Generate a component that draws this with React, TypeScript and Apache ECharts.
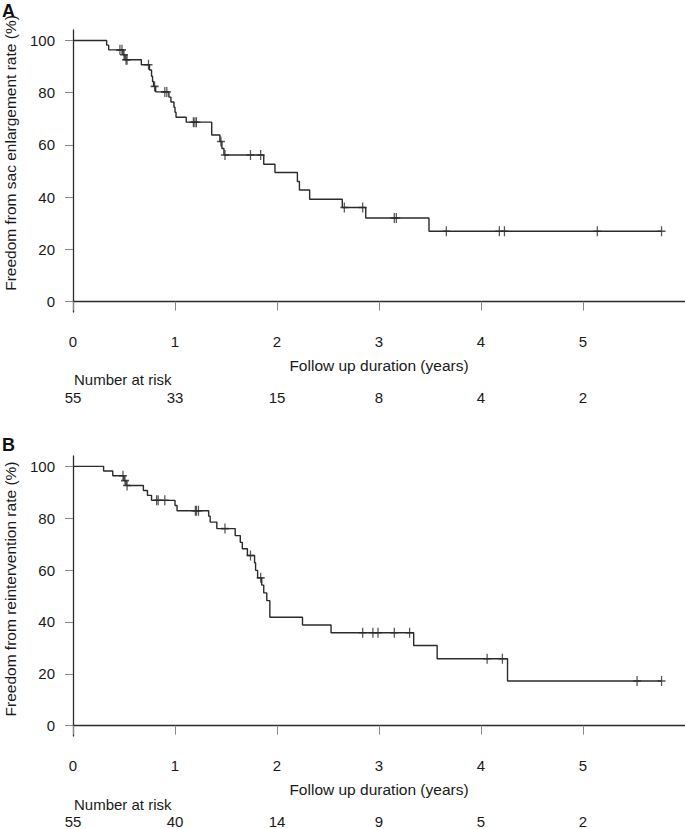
import React, { useEffect, useRef } from "react";
import * as echarts from "echarts";

const xTicks = [0, 1, 2, 3, 4, 5];
const yTicks = [0, 20, 40, 60, 80, 100];
const riskA = [55, 33, 15, 8, 4, 2];
const riskB = [55, 40, 14, 9, 5, 2];

const aEventTimes = [0.33, 0.35, 0.49, 0.51, 0.67, 0.75, 0.77, 0.78, 0.79, 0.81, 0.94, 0.96, 0.99, 1.0, 1.01, 1.11, 1.36, 1.44, 1.46, 1.48, 1.87, 1.98, 2.2, 2.22, 2.32, 2.64, 2.87, 3.49];
const aSurvival = [98.2, 96.4, 94.5, 92.6, 90.7, 88.7, 86.3, 84.3, 82.4, 80.3, 78.3, 76.4, 74.4, 72.5, 70.6, 68.7, 63.8, 61.3, 58.6, 56.1, 52.6, 49.4, 46.0, 42.7, 39.2, 36.0, 32.0, 26.9];
const aCensorTimes = [0.46, 0.48, 0.5, 0.52, 0.53, 0.74, 0.8, 0.9, 0.92, 1.18, 1.195, 1.21, 1.45, 1.49, 1.74, 1.84, 2.66, 2.84, 3.15, 3.17, 3.66, 4.18, 4.23, 5.14, 5.77];

const bEventTimes = [0.3, 0.39, 0.5, 0.52, 0.69, 0.73, 0.77, 1.0, 1.02, 1.33, 1.345, 1.41, 1.59, 1.64, 1.66, 1.71, 1.78, 1.79, 1.81, 1.85, 1.87, 1.9, 1.93, 2.25, 2.53, 3.34, 3.57, 4.26];
const bSurvival = [98.2, 96.4, 94.5, 92.6, 90.7, 88.8, 86.9, 84.9, 82.9, 80.8, 78.5, 76.0, 73.3, 70.7, 68.2, 65.6, 62.8, 59.9, 57.0, 54.2, 51.2, 48.2, 41.8, 38.8, 35.8, 30.9, 25.8, 17.2];
const bCensorTimes = [0.49, 0.51, 0.53, 0.82, 0.835, 0.9, 1.2, 1.21, 1.23, 1.49, 1.74, 1.84, 2.84, 2.94, 2.99, 3.15, 3.3, 4.06, 4.21, 5.53, 5.77];

const FONT = "'Liberation Sans', Arial, sans-serif";
const LINE = "#2b2b2b";

function survAt(times: number[], surv: number[], t: number) {
  let s = 100;
  for (let i = 0; i < times.length; i++) if (times[i] <= t) s = surv[i];
  return s;
}
function curve(times: number[], surv: number[], censors: number[]) {
  const pts: number[][] = [[0, 100]];
  times.forEach((t, i) => pts.push([t, surv[i]]));
  const end = Math.max(...censors, ...times);
  pts.push([end, surv[surv.length - 1]]);
  return pts;
}
function censorPts(times: number[], surv: number[], censors: number[]) {
  return censors.map((c) => [c, survAt(times, surv, c)]);
}

function mainX(gridIndex: number) {
  return {
    type: "value",
    gridIndex,
    min: 0,
    max: 6,
    position: "bottom",
    splitLine: { show: false },
    axisLine: { show: true, lineStyle: { color: LINE, width: 1.3 } },
    axisTick: { show: true, length: 9, customValues: xTicks, lineStyle: { color: "#888", width: 1 } },
    axisLabel: { margin: 22, fontSize: 15, color: "#1a1a1a", fontFamily: FONT, customValues: xTicks },
    name: "Follow up duration (years)",
    nameLocation: "middle",
    nameGap: 45,
    nameTextStyle: { fontSize: 15.5, color: "#1a1a1a", fontFamily: FONT },
  };
}
function riskX(gridIndex: number, risk: number[]) {
  return {
    type: "value",
    gridIndex,
    min: 0,
    max: 6,
    position: "bottom",
    splitLine: { show: false },
    axisLine: { show: false },
    axisTick: { show: false },
    axisLabel: {
      margin: 78,
      fontSize: 15,
      color: "#1a1a1a",
      fontFamily: FONT,
      customValues: xTicks,
      formatter: (v: number) => {
        const i = xTicks.indexOf(v);
        return i >= 0 ? String(risk[i]) : "";
      },
    },
  };
}
function yAx(gridIndex: number) {
  return {
    type: "value",
    gridIndex,
    min: -4,
    max: 104,
    splitLine: { show: false },
    axisLine: { show: true, lineStyle: { color: LINE, width: 1.3 } },
    axisTick: { show: true, length: 8, customValues: yTicks, lineStyle: { color: "#888", width: 1 } },
    axisLabel: { margin: 18, fontSize: 15, color: "#1a1a1a", fontFamily: FONT, customValues: yTicks },
  };
}

export default function App() {
  const ref = useRef<HTMLDivElement>(null);
  useEffect(() => {
    if (!ref.current) return;
    const chart = echarts.init(ref.current, undefined, { renderer: "svg" });
    const plusSymbol = "path://M0,-1L0,1M-1,0L1,0";
    const lineSeries = (xi: number, yi: number, data: number[][]) => ({
      type: "line",
      xAxisIndex: xi,
      yAxisIndex: yi,
      step: "end",
      showSymbol: false,
      symbol: "none",
      silent: true,
      lineStyle: { color: LINE, width: 1.4 },
      data,
    });
    const censorSeries = (xi: number, yi: number, data: number[][]) => ({
      type: "scatter",
      xAxisIndex: xi,
      yAxisIndex: yi,
      symbol: plusSymbol,
      symbolSize: [8, 10],
      silent: true,
      itemStyle: { color: "none", borderColor: LINE, borderWidth: 1.4 },
      data,
    });
    chart.setOption({
      animation: false,
      backgroundColor: "#fff",
      grid: [
        { left: 73, right: 0, top: 30, height: 282 },
        { left: 73, right: 0, top: 456, height: 282 },
      ],
      xAxis: [mainX(0), riskX(0, riskA), mainX(1), riskX(1, riskB)],
      yAxis: [yAx(0), yAx(1)],
      series: [
        lineSeries(0, 0, curve(aEventTimes, aSurvival, aCensorTimes)),
        censorSeries(0, 0, censorPts(aEventTimes, aSurvival, aCensorTimes)),
        lineSeries(2, 1, curve(bEventTimes, bSurvival, bCensorTimes)),
        censorSeries(2, 1, censorPts(bEventTimes, bSurvival, bCensorTimes)),
      ],
      graphic: [
        { type: "text", x: 2, y: 2, style: { text: "A", fontSize: 18, fontWeight: "bold", fontFamily: FONT, fill: "#111" } },
        { type: "text", x: 2, y: 436, style: { text: "B", fontSize: 18, fontWeight: "bold", fontFamily: FONT, fill: "#111" } },
        {
          type: "text", x: 10, y: 153, rotation: Math.PI / 2,
          style: { text: "Freedom from sac enlargement rate (%)", fontSize: 15.5, fontFamily: FONT, fill: "#1a1a1a", textAlign: "center", textVerticalAlign: "middle" },
        },
        {
          type: "text", x: 10, y: 589, rotation: Math.PI / 2,
          style: { text: "Freedom from reintervention rate (%)", fontSize: 15.5, fontFamily: FONT, fill: "#1a1a1a", textAlign: "center", textVerticalAlign: "middle" },
        },
        { type: "text", x: 74, y: 379, style: { text: "Number at risk", fontSize: 15, fontFamily: FONT, fill: "#1a1a1a", textVerticalAlign: "middle" } },
        { type: "text", x: 74, y: 804, style: { text: "Number at risk", fontSize: 15, fontFamily: FONT, fill: "#1a1a1a", textVerticalAlign: "middle" } },
      ],
    });
    return () => chart.dispose();
  }, []);
  return <div ref={ref} style={{ position: "absolute", left: 0, top: 0, width: 685, height: 829 }} />;
}
